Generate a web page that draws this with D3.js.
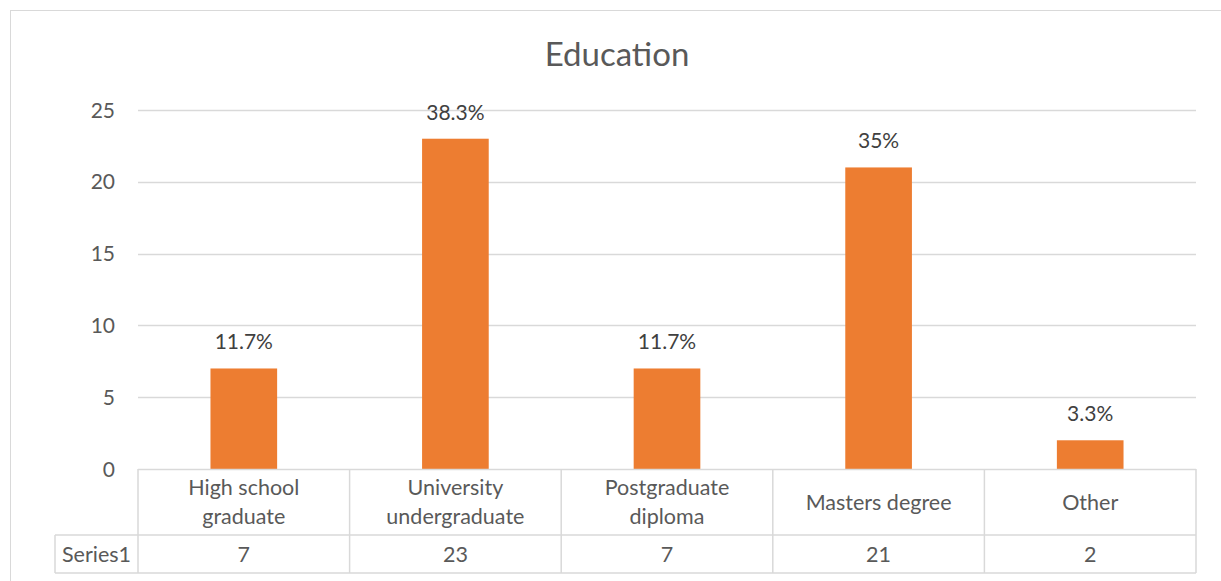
<!DOCTYPE html>
<html><head><meta charset="utf-8">
<script src="https://cdn.jsdelivr.net/npm/d3@7/dist/d3.min.js"></script>
<style>html,body{margin:0;padding:0;background:#fff;}svg{display:block;}</style>
</head><body>
<svg id="chart" width="1221" height="581"></svg>
<script>
const title = "Education";
const categories = [["High school", "graduate"], ["University", "undergraduate"], ["Postgraduate", "diploma"], ["Masters degree"], ["Other"]];
const values = [7, 23, 7, 21, 2];
const percentLabels = ["11.7%", "38.3%", "11.7%", "35%", "3.3%"];
const seriesName = "Series1";
const yTicks = [0, 5, 10, 15, 20, 25];

(function () {
const svg = d3.select("#chart");
const font = "Lato, 'Open Sans', sans-serif";
const textColor = "#595959";
const gridColor = "#D9D9D9";

const plotLeft = 138, plotRight = 1196, plotTop = 110, plotBottom = 469;
const catRowBottom = 535, seriesRowBottom = 573, seriesLeft = 55;

svg.append("rect").attr("x", 10.5).attr("y", 10.5).attr("width", 1220).attr("height", 600)
  .attr("fill", "none").attr("stroke", gridColor).attr("stroke-width", 1);

svg.append("text").attr("x", 617).attr("y", 66).attr("text-anchor", "middle")
  .attr("font-family", font).attr("font-size", 33).attr("fill", textColor).text(title);

const y = d3.scaleLinear().domain([0, 25]).range([plotBottom, plotTop]);
const idx = d3.range(values.length);
const xCell = d3.scaleBand().domain(idx).range([plotLeft, plotRight]).padding(0);
const xBar = d3.scaleBand().domain(idx).range([plotLeft, plotRight]).paddingInner(0.685).paddingOuter(0.685 / 2);

svg.append("g").selectAll("line").data(yTicks.filter(t => t > 0)).join("line")
  .attr("x1", plotLeft).attr("x2", plotRight)
  .attr("y1", d => Math.round(y(d)) + 0.5).attr("y2", d => Math.round(y(d)) + 0.5)
  .attr("stroke", gridColor).attr("stroke-width", 1.3);

svg.append("g").selectAll("text").data(yTicks).join("text")
  .attr("x", 115).attr("y", d => y(d) + 7.5).attr("text-anchor", "end")
  .attr("font-family", font).attr("font-size", 21).attr("fill", textColor).text(d => d);

svg.append("g").selectAll("rect").data(idx).join("rect")
  .attr("x", i => xBar(i)).attr("width", xBar.bandwidth())
  .attr("y", i => y(values[i])).attr("height", i => y(0) - y(values[i]))
  .attr("fill", "#ED7D31");

svg.append("g").selectAll("text").data(idx).join("text")
  .attr("x", i => xCell(i) + xCell.bandwidth() / 2).attr("y", i => y(values[i]) - 19)
  .attr("text-anchor", "middle").attr("font-family", font).attr("font-size", 21)
  .attr("fill", "#404040").text(i => percentLabels[i]);

const tbl = svg.append("g").attr("stroke", gridColor).attr("stroke-width", 1.5).attr("fill", "none");
tbl.append("line").attr("x1", plotLeft).attr("x2", plotRight).attr("y1", plotBottom + 0.5).attr("y2", plotBottom + 0.5);
tbl.append("line").attr("x1", seriesLeft).attr("x2", plotRight).attr("y1", catRowBottom).attr("y2", catRowBottom);
tbl.append("line").attr("x1", seriesLeft).attr("x2", plotRight).attr("y1", seriesRowBottom).attr("y2", seriesRowBottom);
tbl.append("line").attr("x1", seriesLeft).attr("x2", seriesLeft).attr("y1", catRowBottom).attr("y2", seriesRowBottom);
tbl.selectAll(".v").data(d3.range(values.length + 1)).join("line")
  .attr("x1", i => i < values.length ? xCell(i) : plotRight).attr("x2", i => i < values.length ? xCell(i) : plotRight)
  .attr("y1", plotBottom).attr("y2", seriesRowBottom);

const catG = svg.append("g");
idx.forEach(i => {
  const lines = categories[i];
  const cx = xCell(i) + xCell.bandwidth() / 2;
  const mid = (plotBottom + catRowBottom) / 2;
  const lh = 29;
  lines.forEach((ln, k) => {
    catG.append("text").attr("x", cx)
      .attr("y", mid + (k - (lines.length - 1) / 2) * lh + 7.5)
      .attr("text-anchor", "middle").attr("font-family", font).attr("font-size", 21.5)
      .attr("fill", textColor).text(ln);
  });
});

svg.append("text").attr("x", (seriesLeft + plotLeft) / 2).attr("y", (catRowBottom + seriesRowBottom) / 2 + 7.5)
  .attr("text-anchor", "middle").attr("font-family", font).attr("font-size", 21.5)
  .attr("fill", textColor).text(seriesName);
svg.append("g").selectAll("text").data(idx).join("text")
  .attr("x", i => xCell(i) + xCell.bandwidth() / 2).attr("y", (catRowBottom + seriesRowBottom) / 2 + 7.5)
  .attr("text-anchor", "middle").attr("font-family", font).attr("font-size", 21.5)
  .attr("fill", textColor).text(i => values[i]);
})();
</script>
</body></html>
